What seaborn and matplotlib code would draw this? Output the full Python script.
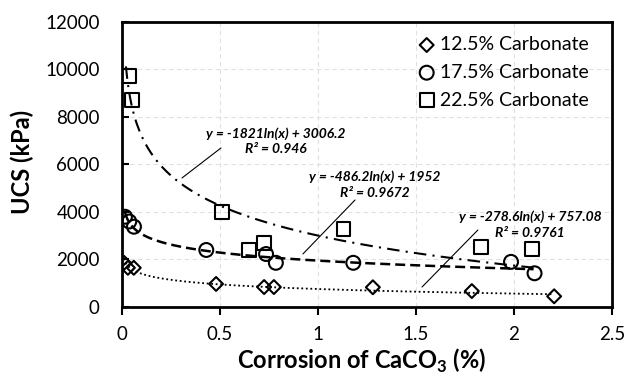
import numpy as np
import pandas as pd
import matplotlib
matplotlib.use("Agg")
import matplotlib.pyplot as plt
import seaborn as sns

# punkty pomiarowe
x_125 = [0.01, 0.03, 0.06, 0.48, 0.725, 0.775, 1.28, 1.785, 2.205]
y_125 = [1860, 1650, 1650, 970, 840, 840, 830, 670, 450]

x_175 = [0.015, 0.037, 0.061, 0.43, 0.735, 0.785, 1.18, 1.985, 2.105]
y_175 = [3800, 3600, 3380, 2400, 2230, 1860, 1860, 1900, 1420]

x_225 = [0.037, 0.053, 0.51, 0.65, 0.725, 1.13, 1.83, 2.09]
y_225 = [9730, 8720, 3990, 2400, 2710, 3270, 2540, 2430]

series = ["12.5% Carbonate", "17.5% Carbonate", "22.5% Carbonate"]

# linie trendu y = a*ln(x) + b
trend_a = [-278.6, -486.2, -1821.0]
trend_b = [757.08, 1952.0, 3006.2]
trend_r2 = ["0.9761", "0.9672", "0.946"]
trend_xmin = [0.01, 0.015, 0.02]
trend_xmax = [2.2, 2.1, 2.1]

df = pd.DataFrame({
    "x": x_125 + x_175 + x_225,
    "y": y_125 + y_175 + y_225,
    "seria": [series[0]] * len(x_125) + [series[1]] * len(x_175) + [series[2]] * len(x_225),
})

trend_rows = []
for s, a, b, lo, hi in zip(series, trend_a, trend_b, trend_xmin, trend_xmax):
    xs = np.linspace(lo, hi, 300)
    trend_rows.append(pd.DataFrame({"x": xs, "y": a * np.log(xs) + b, "seria": s}))
df_trend = pd.concat(trend_rows, ignore_index=True)

sns.set_style("white")
plt.rcParams["font.family"] = ["Lato", "DejaVu Sans"]
plt.rcParams["mathtext.fontset"] = "custom"
plt.rcParams["mathtext.rm"] = "Lato:bold"
plt.rcParams["text.color"] = "black"
plt.rcParams["axes.labelcolor"] = "black"
plt.rcParams["xtick.color"] = "black"
plt.rcParams["ytick.color"] = "black"

fig = plt.figure(figsize=(6.27, 3.79), dpi=100)
ax = fig.add_axes([0.1946, 0.19, 0.7814, 0.752])

# linie trendu
style_map = {series[0]: (0, (1, 1.5)), series[1]: (0, (4, 2)), series[2]: (0, (6, 3, 1, 3))}
lw_map = {series[0]: 1.3, series[1]: 1.8, series[2]: 1.5}
for s in series:
    sns.lineplot(data=df_trend[df_trend["seria"] == s], x="x", y="y", ax=ax,
                 color="black", linestyle=style_map[s], lw=lw_map[s],
                 legend=False, zorder=2)

# punkty
markers = {series[0]: "D", series[1]: "o", series[2]: "s"}
sizes = {series[0]: 50, series[1]: 100, series[2]: 100}
for s in series:
    sns.scatterplot(data=df[df["seria"] == s], x="x", y="y", ax=ax,
                    marker=markers[s], s=sizes[s], facecolor="none",
                    edgecolor="black", linewidth=1.5, label=s, zorder=3)

# równania trendu
eq_pos = [(2.082, 3474), (1.291, 5158), (0.786, 6990)]
leaders = [((1.531, 842), (1.816, 3242)),
           ((0.923, 2232), (1.189, 4505)),
           ((0.306, 5432), (0.505, 6695))]
for a, b, r2, (tx, ty), (p0, p1) in zip(trend_a, trend_b, trend_r2, eq_pos, leaders):
    txt = f"y = {a:g}ln(x) + {b:g}\nR² = {r2}"
    ax.text(tx, ty, txt, ha="center", va="center", fontsize=10,
            fontweight="bold", fontstyle="italic", linespacing=1.35)
    ax.plot([p0[0], p1[0]], [p0[1], p1[1]], color="black", lw=0.8)

ax.set_xlim(0, 2.5)
ax.set_ylim(0, 12000)
ax.set_xticks([0, 0.5, 1, 1.5, 2, 2.5])
ax.set_xticklabels(["0", "0.5", "1", "1.5", "2", "2.5"])
ax.set_yticks(range(0, 12001, 2000))
ax.grid(True, color="#e0e0e0", linestyle=(0, (4, 3)), lw=0.8)
ax.set_axisbelow(True)

for sp in ax.spines.values():
    sp.set_color("black")
    sp.set_linewidth(2)

ax.tick_params(axis="x", direction="out", length=6, width=1.5, pad=8,
               labelsize=13.5, bottom=True)
ax.tick_params(axis="y", direction="in", length=5, width=1.5, pad=16,
               labelsize=13.5, left=True)

ax.set_xlabel("Corrosion of CaCO$_3$ (%)", fontsize=17, fontweight="bold")
ax.set_ylabel("UCS (kPa)", fontsize=17, fontweight="bold")
ax.xaxis.set_label_coords(0.49, -0.14)
ax.yaxis.set_label_coords(-0.18, 0.51)

ax.legend(loc="upper right", frameon=False, fontsize=14, handletextpad=0.2,
          labelspacing=0.55, borderaxespad=0.4, handlelength=1.0,
          bbox_to_anchor=(0.985, 1.005))

fig.savefig("out.png", dpi=100)
